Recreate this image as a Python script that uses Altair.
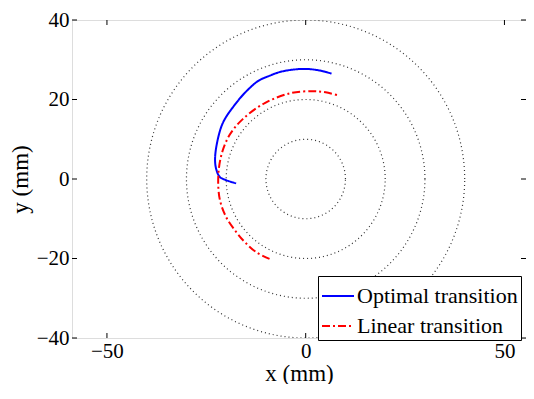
import altair as alt
import pandas as pd
import numpy as np

# Data
radii = [10, 20, 30, 40]

opt_x = [-17.5, -20.0, -21.6, -22.4, -22.8, -22.4, -20.8, -17.5, -14.8, -11.9, -9.0, -6.2, -0.6, 3.5, 6.5]
opt_y = [-1.1, -0.3, 0.5, 2.1, 4.5, 8.6, 14.2, 19.1, 22.2, 24.7, 26.0, 27.0, 27.7, 27.3, 26.5]

lin_x = [-9.1, -12.3, -15.1, -17.5, -20.0, -21.6, -22.0, -21.2, -19.2, -15.9, -10.3, -3.8, 1.8, 5.0, 7.9]
lin_y = [-20.1, -18.5, -16.1, -13.3, -9.6, -5.2, 0.5, 6.1, 11.0, 15.0, 19.1, 21.6, 22.1, 21.8, 21.1]

x_ticks = [-50, 0, 50]
y_ticks = [-40, -20, 0, 20, 40]
series_names = ["Optimal transition", "Linear transition"]

W, H = 454, 318
FONT = "Liberation Serif"

# circle outlines (reference grid rings)
ang = np.linspace(0, 2 * np.pi, 361)
circ_rows = []
for r in radii:
    for i, a in enumerate(ang):
        circ_rows.append({"r": r, "i": i, "x": r * np.cos(a), "y": r * np.sin(a)})
circ_df = pd.DataFrame(circ_rows)

rows = []
for i, (x, y) in enumerate(zip(opt_x, opt_y)):
    rows.append({"series": series_names[0], "i": i, "x": x, "y": y})
for i, (x, y) in enumerate(zip(lin_x, lin_y)):
    rows.append({"series": series_names[1], "i": i, "x": x, "y": y})
curve_df = pd.DataFrame(rows)

# equal aspect: 80 y-units over H px
ppu = H / 80.0
x0_px = 305.7 - 72  # x = 0 position relative to plot left
xscale = alt.Scale(domain=[-x0_px / ppu, (W - x0_px) / ppu], nice=False, zero=False)
yscale = alt.Scale(domain=[-40, 40], nice=False, zero=False)

xaxis = alt.Axis(values=x_ticks, title="x (mm)", grid=False, tickSize=0, domain=False,
                 labelFont=FONT, labelFontSize=21, labelColor="black", labelPadding=2,
                 titleFont=FONT, titleFontSize=23, titleFontWeight="normal", titleColor="black",
                 titlePadding=1)
yaxis = alt.Axis(values=y_ticks, title="y (mm)", grid=False, tickSize=0, domain=False,
                 labelFont=FONT, labelFontSize=21, labelColor="black", labelPadding=3,
                 titleFont=FONT, titleFontSize=23, titleFontWeight="normal", titleColor="black",
                 titlePadding=4)

circles = alt.Chart(circ_df).mark_line(color="#333333", strokeWidth=1.2, strokeDash=[1, 3], clip=True).encode(
    x=alt.X("x:Q", scale=xscale, axis=xaxis),
    y=alt.Y("y:Q", scale=yscale, axis=yaxis),
    detail="r:N",
    order="i:Q",
)

curves = alt.Chart(curve_df).mark_line(strokeWidth=2, interpolate="catmull-rom").encode(
    x=alt.X("x:Q", scale=xscale),
    y=alt.Y("y:Q", scale=yscale),
    order="i:Q",
    color=alt.Color("series:N", scale=alt.Scale(domain=series_names, range=["#0000FF", "#FF0000"]),
                    legend=alt.Legend(title=None, orient="none", legendX=246, legendY=256,
                                      symbolType="stroke", symbolSize=1024, symbolStrokeWidth=2,
                                      labelFont=FONT, labelFontSize=22, labelColor="black",
                                      labelOffset=2,
                                      strokeColor="black", fillColor="white", padding=3,
                                      rowPadding=2, labelLimit=300)),
    strokeDash=alt.StrokeDash("series:N", scale=alt.Scale(domain=series_names, range=[[1, 0], [8, 3, 2, 3]]),
                              legend=None),
)

tick_df_x = pd.DataFrame({"v": x_ticks})
tick_df_y = pd.DataFrame({"v": y_ticks})
tb = alt.Chart(tick_df_x).mark_rule(color="black", strokeWidth=1).encode(
    x=alt.X("v:Q", scale=xscale), y=alt.value(H), y2=alt.value(H - 5))
tt = alt.Chart(tick_df_x).mark_rule(color="black", strokeWidth=1).encode(
    x=alt.X("v:Q", scale=xscale), y=alt.value(0), y2=alt.value(5))
tl = alt.Chart(tick_df_y).mark_rule(color="black", strokeWidth=1).encode(
    y=alt.Y("v:Q", scale=yscale), x=alt.value(0), x2=alt.value(5))
tr = alt.Chart(tick_df_y).mark_rule(color="black", strokeWidth=1).encode(
    y=alt.Y("v:Q", scale=yscale), x=alt.value(W), x2=alt.value(W - 5))

chart = alt.layer(circles, curves, tb, tt, tl, tr).properties(
    width=W, height=H,
    autosize=alt.AutoSizeParams(type="none"),
    padding={"left": 64, "top": 12, "right": 0, "bottom": 46},
).configure_view(stroke="black", strokeWidth=1.2).configure(background="white", font=FONT)

chart.save("out.html", embed_options={"renderer": "svg", "actions": False})
